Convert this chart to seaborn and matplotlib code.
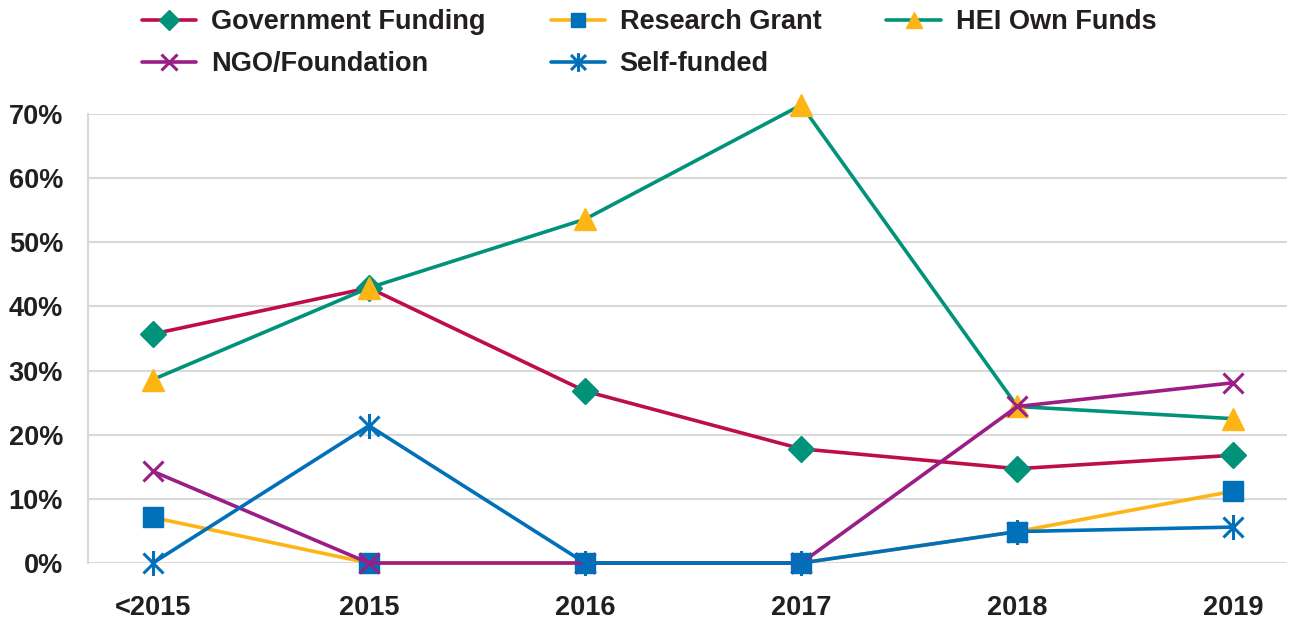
import numpy as np
import matplotlib
matplotlib.use("Agg")
import matplotlib.pyplot as plt
from matplotlib.path import Path
import seaborn as sns

categories = ["<2015", "2015", "2016", "2017", "2018", "2019"]
gov_funding = [35.7, 42.9, 26.8, 17.8, 14.7, 16.8]
research_grant = [7.1, 0.0, 0.0, 0.0, 4.9, 11.2]
hei_own_funds = [28.6, 42.9, 53.6, 71.4, 24.4, 22.5]
ngo_foundation = [14.3, 0.0, 0.0, 0.0, 24.4, 28.1]
self_funded = [0.0, 21.4, 0.0, 0.0, 4.9, 5.6]
y_ticks = [0, 10, 20, 30, 40, 50, 60, 70]

sns.set_theme(style="white")
plt.rcParams['font.family'] = ['Liberation Sans', 'DejaVu Sans']

fig = plt.figure(figsize=(12.9, 6.21), dpi=100)
ax = fig.add_axes([88/1290, 1-563/621, 1-88/1290-0.002, (563-114)/621])

x = np.arange(len(categories))

star = Path([(0, -1), (0, 1), (-0.8, -0.8), (0.8, 0.8), (-0.8, 0.8), (0.8, -0.8)],
            [Path.MOVETO, Path.LINETO, Path.MOVETO, Path.LINETO, Path.MOVETO, Path.LINETO])

series = [
    ("Government Funding", gov_funding, "#BE0D4B", "D", "#00937A", 13, 1),
    ("Research Grant", research_grant, "#FDB515", "s", "#0070BA", 14, 1),
    ("HEI Own Funds", hei_own_funds, "#00937A", "^", "#FDB515", 16, 1),
    ("NGO/Foundation", ngo_foundation, "#9B1D86", "x", "#9B1D86", 15, 2.2),
    ("Self-funded", self_funded, "#0070BA", star, "#0070BA", 18, 2.2),
]

handles = {}
for name, vals, lc, mk, mc, ms, mew in series:
    sns.lineplot(x=x, y=vals, ax=ax, color=lc, linewidth=2.6, marker=mk,
                 markersize=ms, markerfacecolor=mc, markeredgecolor=mc,
                 markeredgewidth=mew, label=name, clip_on=False, legend=False)
    handles[name] = ax.get_lines()[-1]

ax.set_xlim(-0.3, 5.25)
ax.set_ylim(0, 70)
ax.set_yticks(y_ticks)
ax.set_yticklabels([f"{v}%" for v in y_ticks])
ax.set_xticks(x)
ax.set_xticklabels(categories)
ax.yaxis.grid(True, color="#D9D9D9", linewidth=1.5)
ax.set_axisbelow(True)
for s in ["top", "right", "bottom"]:
    ax.spines[s].set_visible(False)
ax.spines["left"].set_color("#D9D9D9")
ax.spines["left"].set_linewidth(1.5)
ax.tick_params(axis="y", length=0, pad=18, labelsize=19.5, labelcolor="#231F20")
ax.tick_params(axis="x", length=0, pad=23, labelsize=19.5, labelcolor="#231F20")
for lbl in ax.get_xticklabels() + ax.get_yticklabels():
    lbl.set_fontweight("bold")
ax.set_xlabel("")
ax.set_ylabel("")

order = ["Government Funding", "NGO/Foundation", "Research Grant", "Self-funded", "HEI Own Funds"]
leg = fig.legend([handles[n] for n in order], order, ncol=3, loc="upper left",
                 bbox_to_anchor=(138/1290, 1 - 5/621), frameon=False,
                 prop={"weight": "bold", "size": 19.5}, handlelength=2.0,
                 handletextpad=0.55, columnspacing=2.4, labelspacing=0.6,
                 borderaxespad=0, borderpad=0.15)
for t in leg.get_texts():
    t.set_color("#231F20")
for h in leg.legend_handles:
    h.set_markersize(h.get_markersize() * 0.75)

fig.savefig("out.png", dpi=100)
